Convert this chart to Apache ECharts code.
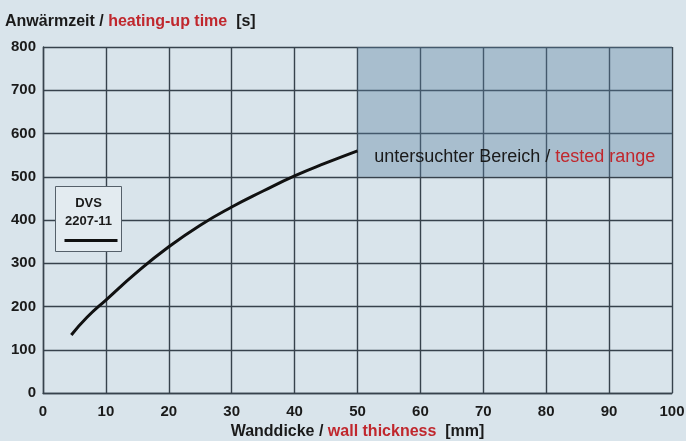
<!DOCTYPE html>
<html>
<head>
<meta charset="utf-8">
<script src="https://cdn.jsdelivr.net/npm/echarts@6/dist/echarts.min.js"></script>
<style>
html,body{margin:0;padding:0;background:#d9e4eb;}
#c{width:686px;height:441px;}
</style>
</head>
<body>
<div id="c"></div>
<script>
// Data
var thickness = [4.5, 7, 10, 15, 20, 25, 30, 35, 40, 45, 50];
var heatingTime = [134, 175, 215, 280, 338, 388, 430, 467, 502, 532, 560];
var xTicks = [0, 10, 20, 30, 40, 50, 60, 70, 80, 90, 100];
var yTicks = [0, 100, 200, 300, 400, 500, 600, 700, 800];
var testedRange = { x: [50, 100], y: [500, 800] };
var seriesName = 'DVS 2207-11';

var pts = thickness.map(function (t, i) { return [t, heatingTime[i]]; });
var gridColor = '#37424c';
var font = '"Liberation Sans", Arial, sans-serif';

var chart = echarts.init(document.getElementById('c'));
chart.setOption({
  backgroundColor: '#d9e4eb',
  animation: false,
  title: {
    left: 5, top: 14, padding: 0,
    text: '{a|Anwärmzeit / }{b|heating-up time}{a|  [s]}',
    textStyle: {
      rich: {
        a: { fontFamily: font, fontWeight: 'bold', fontSize: 16, color: '#1a1a1a' },
        b: { fontFamily: font, fontWeight: 'bold', fontSize: 16, color: '#c0272d' }
      }
    }
  },
  grid: { left: 43, right: 14, top: 47, bottom: 48, containLabel: false, outerBoundsMode: 'none' },
  xAxis: {
    type: 'value', min: 0, max: 100, interval: 10,
    name: '{a|Wanddicke / }{b|wall thickness}{a|  [mm]}',
    nameLocation: 'middle', nameGap: 28,
    nameTextStyle: {
      rich: {
        a: { fontFamily: font, fontWeight: 'bold', fontSize: 16, color: '#1a1a1a' },
        b: { fontFamily: font, fontWeight: 'bold', fontSize: 16, color: '#c0272d' }
      }
    },
    axisLine: { show: true, lineStyle: { color: gridColor, width: 1.4 } },
    axisTick: { show: false },
    axisLabel: { fontFamily: font, fontWeight: 'bold', fontSize: 15, color: '#1a1a1a', margin: 11,
      formatter: function (v) { return xTicks.indexOf(v) >= 0 ? String(v) : ''; } },
    splitLine: { show: true, lineStyle: { color: gridColor, width: 1.4 } }
  },
  yAxis: {
    type: 'value', min: 0, max: 800, interval: 100,
    axisLine: { show: true, lineStyle: { color: gridColor, width: 1.4 } },
    axisTick: { show: false },
    axisLabel: { fontFamily: font, fontWeight: 'bold', fontSize: 15, color: '#1a1a1a', margin: 7,
      formatter: function (v) { return yTicks.indexOf(v) >= 0 ? String(v) : ''; } },
    splitLine: { show: true, lineStyle: { color: gridColor, width: 1.4 } }
  },
  series: [{
    name: seriesName,
    type: 'line',
    data: pts,
    smooth: true,
    showSymbol: false,
    lineStyle: { color: '#111', width: 3 },
    z: 5,
    markArea: {
      silent: true,
      itemStyle: { color: 'rgba(90,130,160,0.38)' },
      label: {
        show: true,
        position: 'insideBottom',
        distance: 11,
        formatter: '{a|untersuchter Bereich / }{b|tested range}',
        rich: {
          a: { fontFamily: font, fontSize: 18, color: '#1a1a1a' },
          b: { fontFamily: font, fontSize: 18, color: '#c0272d' }
        }
      },
      data: [[
        { xAxis: testedRange.x[0], yAxis: testedRange.y[0] },
        { xAxis: testedRange.x[1], yAxis: testedRange.y[1] }
      ]]
    }
  }],
  graphic: [{
    type: 'group', left: 55, top: 186, z: 100, zlevel: 1,
    children: [
      { type: 'rect', z: 100, shape: { x: 0, y: 0, width: 66, height: 65 },
        style: { fill: '#e3ebf0', stroke: '#55606a', lineWidth: 1 } },
      { type: 'text', z: 101, style: { x: 33, y: 17, text: 'DVS', align: 'center', verticalAlign: 'middle',
        font: 'bold 13px "Liberation Sans", Arial, sans-serif', fill: '#1a1a1a' } },
      { type: 'text', z: 101, style: { x: 33, y: 35, text: '2207-11', align: 'center', verticalAlign: 'middle',
        font: 'bold 13px "Liberation Sans", Arial, sans-serif', fill: '#1a1a1a' } },
      { type: 'line', z: 101, shape: { x1: 9, y1: 54, x2: 62, y2: 54 },
        style: { stroke: '#111', lineWidth: 3 } }
    ]
  }]
});
</script>
</body>
</html>
